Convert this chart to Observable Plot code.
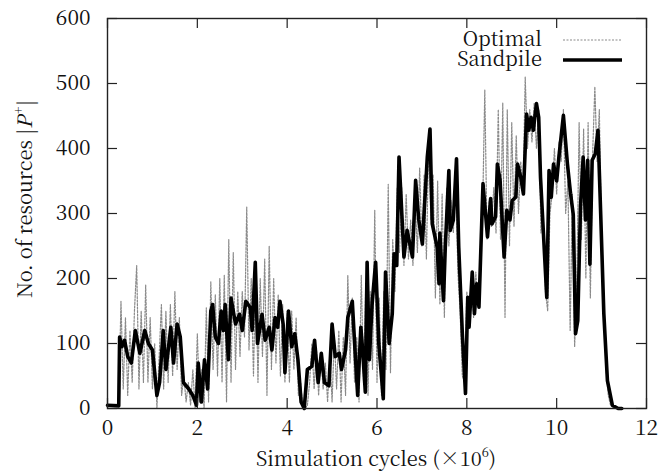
<!DOCTYPE html>
<html><head><meta charset="utf-8">
<script src="https://cdn.jsdelivr.net/npm/d3@7"></script>
<script src="https://cdn.jsdelivr.net/npm/@observablehq/plot@0.6"></script>
<style>
body{margin:0;background:#fff}
svg text, svg tspan{font-family:"Noto Serif CJK SC","Liberation Serif",serif !important;}
</style>
</head><body><div id="chart"></div>
<script>
const xTicks = [0, 2, 4, 6, 8, 10, 12];
const yTicks = [0, 100, 200, 300, 400, 500, 600];
const seriesNames = ["Optimal", "Sandpile"];

const sandX = [0,0.25,0.27,0.32,0.38,0.45,0.53,0.62,0.72,0.83,0.91,1.0,1.1,1.16,1.24,1.30,1.41,1.47,1.55,1.62,1.69,1.81,1.90,1.98,2.02,2.09,2.16,2.23,2.30,2.34,2.40,2.47,2.53,2.58,2.62,2.69,2.75,2.85,2.94,3.0,3.08,3.18,3.22,3.29,3.34,3.44,3.51,3.60,3.66,3.73,3.79,3.84,3.91,3.95,4.03,4.10,4.17,4.24,4.31,4.38,4.45,4.55,4.61,4.69,4.76,4.83,4.93,5.0,5.07,5.16,5.21,5.30,5.35,5.45,5.51,5.57,5.64,5.68,5.74,5.78,5.83,5.89,5.97,6.04,6.14,6.19,6.27,6.34,6.38,6.44,6.49,6.6,6.67,6.79,6.86,6.93,7.01,7.12,7.18,7.23,7.34,7.38,7.40,7.48,7.52,7.60,7.63,7.70,7.77,7.82,7.90,7.97,8.02,8.05,8.12,8.17,8.22,8.27,8.36,8.46,8.53,8.56,8.64,8.68,8.74,8.83,8.89,8.96,9.01,9.09,9.13,9.20,9.26,9.33,9.38,9.43,9.48,9.55,9.60,9.64,9.72,9.78,9.83,9.88,9.93,10.0,10.05,10.15,10.24,10.31,10.37,10.42,10.47,10.53,10.59,10.64,10.69,10.74,10.79,10.86,10.92,10.98,11.05,11.13,11.24,11.37,11.45];
const sandY = [5,4,110,95,105,80,70,120,85,120,100,90,20,40,120,60,125,70,130,110,40,30,20,5,70,10,75,30,150,160,110,100,150,120,160,75,170,130,145,120,165,155,120,225,100,145,105,125,90,140,125,165,130,55,150,95,115,75,10,0,60,65,105,40,85,40,35,130,80,85,60,90,140,165,90,20,125,90,25,225,75,160,225,100,15,210,100,146,238,220,387,233,274,233,351,290,253,387,430,284,248,192,270,166,248,366,274,290,384,248,115,23,171,125,210,146,192,156,346,264,323,284,295,376,351,233,305,290,320,325,376,356,330,453,428,448,428,469,448,356,250,171,366,325,376,350,387,451,376,330,298,115,135,310,387,290,382,222,382,392,428,300,146,43,5,0,0];

const optStep = 0.05;
const optY = [
 5,4,5,3,5,4,165,30,140,20,
 120,40,150,220,30,150,40,190,40,140,
 30,100,0,80,160,30,150,40,160,50,
 180,60,140,20,50,10,40,5,60,0,
 115,10,60,0,155,10,195,60,175,50,
 200,40,205,10,260,40,240,60,180,80,
 180,110,310,90,200,50,220,40,200,80,
 230,20,250,60,200,70,175,50,160,40,
 150,40,150,60,140,20,40,0,0,5,
 40,100,30,95,20,85,30,70,10,85,
 10,110,30,120,10,110,20,205,70,170,
 40,110,10,205,40,190,20,180,60,305,
 40,170,20,180,60,345,55,260,180,340,
 240,340,220,330,230,290,220,320,240,370,
 250,360,230,410,290,360,170,350,160,330,
 140,340,250,320,270,370,210,150,50,40,
 180,130,200,140,210,160,220,300,490,260,
 320,280,340,270,460,260,470,140,460,250,
 440,280,420,300,380,330,510,400,460,410,
 470,400,460,270,300,180,150,300,330,400,
 330,410,380,460,300,350,120,330,95,200,
 440,260,430,200,440,170,390,495,380,460,
 250,150,60,20,5,2,0,0,0,0
];

const sand = sandX.map((x, i) => ({x, y: sandY[i]}));
const optimal = optY.map((y, i) => ({x: +(i * optStep).toFixed(2), y}));

const W = 667, H = 471, mL = 107, mR = 21, mT = 18, mB = 63;
const tickPx = 10;
const tkY = tickPx * 600 / (H - mT - mB);
const tkX = tickPx * 12 / (W - mL - mR);
const ink = "#222";

const chart = Plot.plot({
  width: W, height: H,
  marginLeft: mL, marginRight: mR, marginTop: mT, marginBottom: mB,
  style: {fontSize: "21px", color: "#111", background: "#fff"},
  x: {domain: [0, 12]},
  y: {domain: [0, 600]},
  marks: [
    Plot.axisX(xTicks, {tickSize: 0, tickPadding: 12, label: null, fontSize: 21}),
    Plot.axisY(yTicks, {tickSize: 0, tickPadding: 17, label: null, fontSize: 21}),
    Plot.line(optimal, {x: "x", y: "y", stroke: "#8a8a8a", strokeWidth: 1.2, strokeDasharray: "2,1.5"}),
    Plot.line(sand, {x: "x", y: "y", stroke: "#000", strokeWidth: 3.6, strokeLinejoin: "round"}),
    Plot.ruleX(xTicks, {x: d => d, y1: 0, y2: tkY, stroke: ink, strokeWidth: 1.2}),
    Plot.ruleX(xTicks, {x: d => d, y1: 600 - tkY, y2: 600, stroke: ink, strokeWidth: 1.2}),
    Plot.ruleY(yTicks, {y: d => d, x1: 0, x2: tkX, stroke: ink, strokeWidth: 1.2}),
    Plot.ruleY(yTicks, {y: d => d, x1: 12 - tkX, x2: 12, stroke: ink, strokeWidth: 1.2}),
    Plot.frame({stroke: ink, strokeWidth: 1.4})
  ]
});

const svg = d3.select(chart);
// x axis label
const xl = svg.append("text").attr("x", 376).attr("y", 466)
  .attr("text-anchor", "middle").attr("font-size", 20).attr("fill", "#111");
xl.append("tspan").text("Simulation cycles (×10");
xl.append("tspan").attr("font-size", 13).attr("dy", -9).text("6");
xl.append("tspan").attr("dy", 9).text(")");
// y axis label
const yl = svg.append("text").attr("transform", "translate(32,199) rotate(-90)")
  .attr("text-anchor", "middle").attr("font-size", 20).attr("fill", "#111");
yl.append("tspan").text("No. of resources |");
yl.append("tspan").attr("font-style", "italic").text("P");
yl.append("tspan").attr("font-size", 13).attr("dx", 2).attr("dy", -9).text("+");
yl.append("tspan").attr("dy", 9).text("|");
// legend
const leg = [
  {name: seriesNames[0], yText: 46, yLine: 40, stroke: "#8a8a8a", w: 1.2, dash: "2,1.5"},
  {name: seriesNames[1], yText: 66, yLine: 60, stroke: "#000", w: 3.6, dash: null}
];
for (const l of leg) {
  svg.append("text").attr("x", 542).attr("y", l.yText).attr("text-anchor", "end")
    .attr("font-size", 20).attr("fill", "#111").text(l.name);
  const ln = svg.append("line").attr("x1", 563).attr("x2", 622).attr("y1", l.yLine).attr("y2", l.yLine)
    .attr("stroke", l.stroke).attr("stroke-width", l.w);
  if (l.dash) ln.attr("stroke-dasharray", l.dash);
}
document.getElementById("chart").appendChild(chart);
</script>
</body></html>
